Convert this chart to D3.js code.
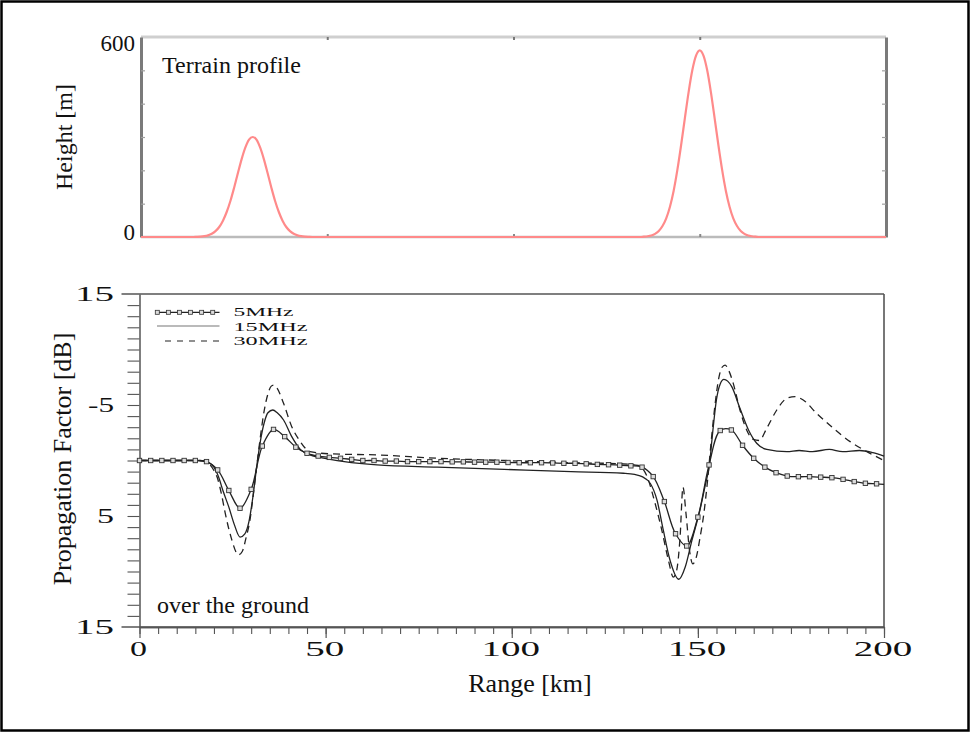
<!DOCTYPE html>
<html><head><meta charset="utf-8">
<script src="https://cdn.jsdelivr.net/npm/d3@7"></script>
<style>html,body{margin:0;padding:0;background:#fff;} svg{display:block}</style>
</head><body>
<svg id="chart" width="972" height="733"></svg>
<script>
// ---------- DATA ----------
const terrainKm = [0,14,15,16,17,18,19,20,21,22,23,24,25,26,27,28,29,30,31,32,33,34,35,36,37,38,39,40,41,42,43,44,45,46,
  134,135,136,137,138,139,140,141,142,143,144,145,146,147,148,149,150,151,152,153,154,155,156,157,158,159,160,161,162,163,164,165,166,200];
const terrainHeight = [0,0,0.5,1.2,2.5,5,9.7,17.6,30,49,75,108,148,191,233,268,292,300,292,268,233,191,148,108,75,49,30,17.6,9.7,5,2.5,1.2,0.5,0,
  0,1,2.2,4.6,9.5,18,33,56,91,139,202,276,356,434,500,544,560,544,500,434,356,276,202,139,91,56,33,18,9.5,4.6,2.2,1,0,0];

const km5 = [0,3,6,9,12,15,18,21,24,27,30,33,36,39,42,45,48,51,54,57,60,63,66,69,72,75,78,81,84,87,90,93,96,99,
  102,105,108,111,114,117,120,123,126,129,132,135,138,141,144,147,150,153,156,159,162,165,168,171,174,177,180,183,186,189,192,195,198,200];
const db5 = [0,0,0,0,0,0,0.1,0.85,2.7,4.3,2.6,-1.3,-2.8,-2.15,-1.2,-0.65,-0.4,-0.28,-0.2,-0.1,0,0,0.05,0.05,0.1,0.1,0.1,0.1,0.12,0.12,0.15,0.15,0.15,0.18,
  0.2,0.2,0.2,0.22,0.25,0.25,0.3,0.35,0.38,0.42,0.48,0.6,1.45,3.7,6.6,7.7,5.1,0.4,-2.7,-2.75,-1.37,-0.2,0.6,1.1,1.4,1.46,1.46,1.5,1.55,1.7,1.9,2.05,2.1,2.15];

const km15 = [0,16,18,20,21.2,22.5,24,25.5,27,28.3,29.4,30.5,31.5,32.5,33.5,34.5,35.8,37,38.7,40.9,43.2,45.8,48,51.2,55,63.8,80,98,116,130,
  133,135,137.2,139,140.7,142.5,144.9,146.6,148.4,150.6,152,153.1,154,155,156,157,158,159.1,161.3,163.6,165.8,168.5,173.9,177.2,180.8,185.3,188.9,193.4,197,200];
const db15 = [0,0,0.1,0.6,1.45,2.8,4.2,5.8,6.9,6.6,5.5,3.2,0.5,-1.8,-3.4,-4.3,-4.55,-4.3,-3.65,-2.15,-1.0,-0.5,-0.3,-0.1,0.1,0.4,0.6,0.8,1.0,1.15,
  1.25,1.45,2.05,3.55,6.26,8.96,10.7,9.6,7.2,4.4,2.2,0.4,-2.6,-5.5,-6.9,-7.3,-7.15,-6.65,-4.7,-2.75,-1.55,-1.0,-0.8,-0.9,-0.8,-1.0,-0.8,-0.9,-0.7,-0.4];

const km30 = [0,16,18,20,20.8,22,23,24.5,26.6,27.6,28.6,29.7,30.6,31.5,32.5,33.5,34.5,35.4,36.1,37,38.7,40.9,43.2,45.8,51.2,63.8,80,98,116,130,
  134,136.3,138.5,140.3,142.1,143.4,144.3,145.2,146,146.8,147.8,148.6,149.5,150.6,151.6,152.6,153.6,154.6,155.6,156.5,
  157.3,158.3,159.5,161.3,163.1,164.9,166.5,168.5,171.2,173.9,176.1,178.3,181.9,186.4,190.9,195.4,200];
const db30 = [0,0,0.15,0.9,1.45,3.0,4.7,6.8,8.5,8.2,7.0,5.3,3.0,0.5,-2.2,-4.5,-6.0,-6.7,-6.8,-6.5,-5.15,-3.05,-1.7,-0.8,-0.6,-0.5,-0.2,0,0.2,0.3,
  0.45,1.4,3.85,6.26,9.0,10.5,9.9,7.0,2.4,4.75,8.2,9.3,8.8,6.9,4.8,1.8,-1.8,-5.0,-7.4,-8.4,
  -8.6,-8.1,-6.95,-4.55,-2.75,-1.9,-1.8,-2.9,-4.55,-5.6,-5.75,-5.45,-4.25,-2.9,-1.7,-0.8,0];

const heightTickValues = [100,200,300,400,500];
const heightLabelValues = [0,600];
const heightLabels = ["0","600"];
const rangeTickTop = [50,100,150];
const xLabelValues = [0,50,100,150,200];
const xLabels = ["0","50","100","150","200"];
const yLabelValues = [-15,-5,5,15];
const yLabels = ["15","-5","5","15"];
const legendLabels = ["5MHz","15MHz","30MHz"];

// ---------- DRAW ----------
const svg = d3.select("#chart");
const SERIF = "Liberation Serif, Times New Roman, serif";

svg.append("rect").attr("x",1.5).attr("y",1.5).attr("width",967).attr("height",729)
  .attr("fill","#fff").attr("stroke","#000").attr("stroke-width",2.5);

function stretchText(g, str, xLeft, y, len, size, anchorCenter) {
  return g.append("text")
    .attr("x", anchorCenter ? xLeft - len/2 : xLeft).attr("y", y)
    .attr("textLength", len).attr("lengthAdjust","spacingAndGlyphs")
    .attr("font-family", SERIF).attr("font-size", size).attr("fill","#111")
    .text(str);
}

// ---- top panel ----
const xT = d3.scaleLinear().domain([0,200]).range([141,886]);
const yT = d3.scaleLinear().domain([0,600]).range([237,37]);
const gt = svg.append("g");

gt.append("line").attr("x1",141).attr("x2",886).attr("y1",yT(600)).attr("y2",yT(600))
  .attr("stroke","#cfcfcf").attr("stroke-width",3);
gt.append("line").attr("x1",141).attr("x2",886).attr("y1",yT(0)).attr("y2",yT(0))
  .attr("stroke","#bbbbbb").attr("stroke-width",2.5);

function styleAxis(g, dom, tick, dw, tw) {
  g.select(".domain").attr("stroke", dom).attr("stroke-width", dw);
  g.selectAll(".tick line").attr("stroke", tick).attr("stroke-width", tw);
  g.selectAll(".tick text").remove();
}
const aL = gt.append("g").attr("transform","translate(141,0)")
  .call(d3.axisRight(yT).tickValues(heightTickValues).tickSize(4).tickSizeOuter(0).tickFormat(""));
styleAxis(aL, "#7a7a7a", "#a0a0a0", 3, 1.2);
const aR = gt.append("g").attr("transform","translate(886,0)")
  .call(d3.axisLeft(yT).tickValues(heightTickValues).tickSize(4).tickSizeOuter(0).tickFormat(""));
styleAxis(aR, "#7a7a7a", "#a0a0a0", 3, 1.2);
const aTt = gt.append("g").attr("transform","translate(0,37)")
  .call(d3.axisBottom(xT).tickValues(rangeTickTop).tickSize(3).tickSizeOuter(0).tickFormat(""));
aTt.select(".domain").remove();
aTt.selectAll(".tick line").attr("stroke","#777").attr("stroke-width",2);
const aTb = gt.append("g").attr("transform","translate(0,237)")
  .call(d3.axisTop(xT).tickValues(rangeTickTop).tickSize(3).tickSizeOuter(0).tickFormat(""));
aTb.select(".domain").remove();
aTb.selectAll(".tick line").attr("stroke","#888").attr("stroke-width",2);

const terrain = terrainKm.map((k,i)=>[k, terrainHeight[i]]);
gt.append("path").datum(terrain)
  .attr("d", d3.line().x(d=>xT(d[0])).y(d=>yT(d[1])).curve(d3.curveMonotoneX))
  .attr("fill","none").attr("stroke","#ff8a8a").attr("stroke-width",2.2);

heightLabelValues.forEach((v,i)=>{
  gt.append("text").attr("x",135).attr("y", v===600 ? yT(v)+14 : yT(v)+3)
    .attr("text-anchor","end").attr("font-family",SERIF).attr("font-size",23).attr("fill","#111")
    .text(heightLabels[i]);
});
gt.append("text").attr("x",162).attr("y",73).attr("font-family",SERIF).attr("font-size",24)
  .attr("fill","#111").text("Terrain profile");
gt.append("text").attr("transform","translate(72,137) rotate(-90)").attr("text-anchor","middle")
  .attr("font-family",SERIF).attr("font-size",24).attr("fill","#111").text("Height [m]");

// ---- bottom panel ----
const xB = d3.scaleLinear().domain([0,200]).range([139.5,884]);
const yB = d3.scaleLinear().domain([-15,15]).range([294,627]);
const gb = svg.append("g");
const AX = "#555";

gb.append("line").attr("x1",121.5).attr("x2",884).attr("y1",yB(-15)).attr("y2",yB(-15)).attr("stroke",AX).attr("stroke-width",1.3);
gb.append("line").attr("x1",121.5).attr("x2",884).attr("y1",yB(15)).attr("y2",yB(15)).attr("stroke",AX).attr("stroke-width",1.3);
gb.append("line").attr("x1",884).attr("x2",884).attr("y1",yB(-15)).attr("y2",yB(15)).attr("stroke",AX).attr("stroke-width",1.6);

const bl = gb.append("g").attr("transform","translate(139.5,0)")
  .call(d3.axisLeft(yB).tickValues(d3.range(-14,15,1)).tickSize(12).tickSizeOuter(0).tickFormat(""));
styleAxis(bl, AX, AX, 1.5, 1.1);
const bx = gb.append("g").attr("transform","translate(0,627)")
  .call(d3.axisBottom(xB).tickValues(d3.range(0,201,5)).tickSize(7).tickSizeOuter(0).tickFormat(""));
styleAxis(bx, AX, AX, 1.3, 1.1);
const bx2 = gb.append("g").attr("transform","translate(0,627)")
  .call(d3.axisBottom(xB).tickValues(xLabelValues).tickSize(11).tickSizeOuter(0).tickFormat(""));
styleAxis(bx2, AX, AX, 1.3, 1.2);

xLabelValues.forEach((v,i)=>{
  const s = xLabels[i];
  const len = s.length===1 ? 17 : s.length*19.5;
  stretchText(gb, s, xB(v)-1, 656, len, 21, true);
});
yLabelValues.forEach((v,i)=>{
  const s = yLabels[i];
  const len = s.length===1 ? 17 : (s==="-5" ? 26 : 39);
  stretchText(gb, s, 114-len, yB(v)+7, len, 21, false);
});

const line = d3.line().x(d=>xB(d[0])).y(d=>yB(d[1]));
const s5 = km5.map((k,i)=>[k, db5[i]]);
const s15 = km15.map((k,i)=>[k, db15[i]]);
const s30 = km30.map((k,i)=>[k, db30[i]]);

gb.append("path").datum(s30).attr("d", line.curve(d3.curveMonotoneX)(s30))
  .attr("fill","none").attr("stroke","#222").attr("stroke-width",1.3).attr("stroke-dasharray","7,5");
gb.append("path").datum(s15).attr("d", line.curve(d3.curveMonotoneX)(s15))
  .attr("fill","none").attr("stroke","#222").attr("stroke-width",1.3);
gb.append("path").datum(s5).attr("d", line.curve(d3.curveCatmullRom.alpha(0.5))(s5))
  .attr("fill","none").attr("stroke","#222").attr("stroke-width",1.3);
gb.selectAll("rect.m5").data(s5.slice(0, s5.length-1)).join("rect").attr("class","m5")
  .attr("x", d=>xB(d[0])-2.2).attr("y", d=>yB(d[1])-2.2).attr("width",4.4).attr("height",4.4)
  .attr("fill","#dcdcdc").attr("stroke","#333").attr("stroke-width",0.9);

// legend
const lg = gb.append("g");
const legY = [312.3, 326, 341];
const legTextY = [316, 330.7, 345.3];
const legLen = [60, 74, 74];
legendLabels.forEach((lab,i)=>{
  const ln = lg.append("line").attr("x1",157).attr("x2",219.5).attr("y1",legY[i]).attr("y2",legY[i])
    .attr("stroke", i===1 ? "#777" : "#222").attr("stroke-width", 1.2);
  if (i===2) ln.attr("stroke-dasharray","6,6").attr("x1",165);
  stretchText(lg, lab, 233.5, legTextY[i], legLen[i], 13, false);
});
lg.selectAll("rect.lm").data(d3.range(6)).join("rect").attr("class","lm")
  .attr("x", d=>157.3 + d*11.08 - 2).attr("y", legY[0]-2).attr("width",4).attr("height",4)
  .attr("fill","#dcdcdc").attr("stroke","#333").attr("stroke-width",0.8);

gb.append("text").attr("x",157).attr("y",613).attr("font-family",SERIF).attr("font-size",24)
  .attr("fill","#111").text("over the ground");
gb.append("text").attr("x",530).attr("y",692).attr("text-anchor","middle").attr("font-family",SERIF)
  .attr("font-size",26).attr("fill","#111").text("Range [km]");
gb.append("text").attr("transform","translate(71,459) rotate(-90)").attr("text-anchor","middle")
  .attr("font-family",SERIF).attr("font-size",26).attr("fill","#111").text("Propagation Factor [dB]");
</script>
</body></html>
